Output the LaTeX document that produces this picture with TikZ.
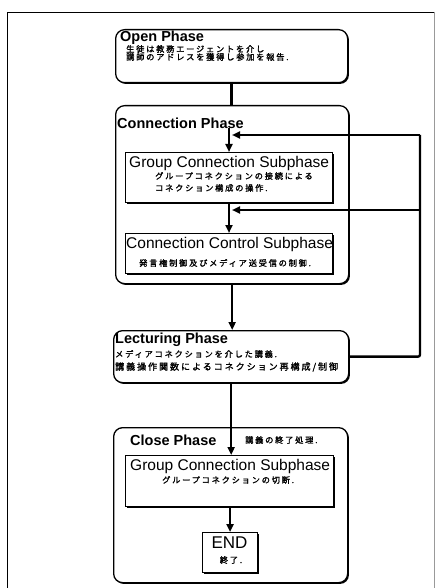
\documentclass[tikz,border=0pt]{standalone}
\usepackage{fontspec}
\setmainfont{Liberation Sans}
\newfontfamily\jp[FakeBold=1.6, LetterSpace=22]{Noto Sans CJK JP}
\usetikzlibrary{arrows.meta,shadows,positioning}

\begin{document}
\begin{tikzpicture}[x=1pt, y=-1pt,
    boxshadow/.style={drop shadow={shadow xshift=1.3pt, shadow yshift=-1.3pt, fill=black, opacity=1}},
    phase/.style={draw, line width=1.3pt, rounded corners=9pt, anchor=north west, inner sep=0pt, fill=white, boxshadow},
    subbox/.style={draw, line width=1.1pt, anchor=north west, inner sep=0pt, fill=white, boxshadow},
    ptitle/.style={anchor=west, inner sep=1pt, font=\fontsize{14.5}{14.5}\selectfont\bfseries},
    stitle/.style={anchor=west, inner sep=1pt, font=\fontsize{15.5}{15.5}\selectfont},
    jtext/.style={anchor=west, inner sep=0pt, font=\fontsize{8.2}{8.2}\selectfont\jp},
    flow/.style={line width=2.4pt},
    arr/.style={line width=2.4pt, -{Triangle[length=8pt, width=7pt]}}]
    \useasboundingbox (0,0) rectangle (436,588);
    % frame of the figure
    \draw[line width=0.5pt] (7,588) -- (7,12) -- (434,12);
    \draw[line width=0.4pt, black!40] (434,12) -- (434,588);

    % phases
    \node[phase, minimum width=232, minimum height=53] (open) at (115,29) {};
    \node[phase, minimum width=233, minimum height=178] (conn) at (115,105) {};
    \node[phase, minimum width=235, minimum height=52] (lect) at (113,330) {};
    \node[phase, minimum width=234, minimum height=155] (close) at (113,427) {};

    % subphases
    \node[subbox, minimum width=207, minimum height=50] (grp1) at (125,152) {};
    \node[subbox, minimum width=207, minimum height=40] (ccs) at (125,233) {};
    \node[subbox, minimum width=208, minimum height=51] (grp2) at (125,455) {};
    \node[subbox, minimum width=55, minimum height=40] (end) at (202,532) {};

    % junctions of the loop
    \coordinate (jA) at (229,128);
    \coordinate (jA1) at (232,135);
    \coordinate (jB) at (232,210);
    \coordinate (loopR) at (420,135);
    \coordinate (loopM) at (420,210);

    % connectors
    \draw[flow] (open.south) -- (open.south |- conn.north);
    \draw[arr] (jA) -- (jA |- grp1.north);
    \draw[arr] (jA |- grp1.south) -- (jA |- ccs.north);
    \draw[arr] (conn.south) -- (conn.south |- lect.north);
    \draw[flow, rounded corners=2pt] (lect.east) -| (loopR);
    \draw[arr] (loopR) -- (jA1);
    \draw[arr] (loopM) -- (jB);
    \draw[arr] (lect.south) -- (lect.south |- grp2.north);
    \draw[arr] (end.north |- grp2.south) -- (end.north);

    % texts
    \node[ptitle] (openT) at (119,38) {Open Phase};
    \node[jtext] (openJ1) at (126,49) {生徒は教務エージェントを介し};
    \node[jtext] (openJ2) at (126,57) {講師のアドレスを獲得し参加を報告.};

    \node[ptitle] (connT) at (116,123) {Connection Phase};
    \node[stitle] (grp1T) at (128,163) {Group Connection Subphase};
    \node[jtext] (grp1J1) at (155,176) {グループコネクションの接続による};
    \node[jtext] (grp1J2) at (155,188) {コネクション構成の操作.};
    \node[stitle] (ccsT) at (125,244) {Connection Control Subphase};
    \node[jtext] (ccsJ) at (139,263) {発言権制御及びメディア送受信の制御.};

    \node[ptitle] (lectT) at (114,340) {Lecturing Phase};
    \node[jtext] (lectJ1) at (115,354) {メディアコネクションを介した講義.};
    \node[jtext, font=\fontsize{9}{9}\selectfont\jp] (lectJ2) at (115,367) {講義操作関数によるコネクション再構成/制御};

    \node[ptitle] (closeT) at (129,440) {Close Phase};
    \node[jtext] (closeJ) at (245,440) {講義の終了処理.};
    \node[stitle] (grp2T) at (129,466) {Group Connection Subphase};
    \node[jtext] (grp2J) at (162,480) {グループコネクションの切断.};
    \node[anchor=center, inner sep=0pt, font=\fontsize{17}{17}\selectfont] (endT) at (229.5,543) {END};
    \node[jtext, anchor=center] (endJ) at (231,560) {終了.};
\end{tikzpicture}
\end{document}
